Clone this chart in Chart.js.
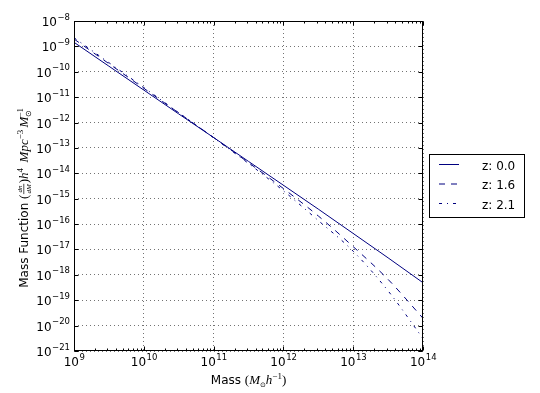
<!DOCTYPE html>
<html>
<head>
<meta charset="utf-8">
<script src="https://cdn.jsdelivr.net/npm/chart.js@4.4.0/dist/chart.umd.min.js"></script>
<style>
  html, body { margin: 0; padding: 0; background: #fff; }
  #grafico { display: block; }
</style>
</head>
<body>
<canvas id="grafico" width="540" height="393"></canvas>
<script>
// Dados (massa em M_sun/h, função de massa)
const massas = [1e9, 3.16e9, 1e10, 3.16e10, 1e11, 3.16e11, 1e12, 3.16e12, 1e13, 3.16e13, 1e14];
const funcaoZ00 = [1.45e-9, 1.66e-10, 1.9e-11, 2.19e-12, 2.57e-13, 2.95e-14, 3.39e-15, 3.89e-16, 4.27e-17, 4.68e-18, 4.9e-19];
const funcaoZ16 = [1.95e-9, 2.09e-10, 2.24e-11, 2.4e-12, 2.57e-13, 2.63e-14, 2.51e-15, 2.09e-16, 1.29e-17, 6.61e-19, 1.95e-20];
const funcaoZ21 = [2.19e-9, 2.29e-10, 2.4e-11, 2.45e-12, 2.51e-13, 2.45e-14, 2.04e-15, 1.38e-16, 8.5e-18, 2.34e-19, 3.09e-21];
const rotulos = ['z: 0.0', 'z: 1.6', 'z: 2.1'];

// Rótulos dos eixos (expoentes de 10)
const expoentesX = [9, 10, 11, 12, 13, 14];
const expoentesY = [-8, -9, -10, -11, -12, -13, -14, -15, -16, -17, -18, -19, -20, -21];

const COR = '#000080';
const FONTE = 'DejaVu Sans';
const SERIF = 'Liberation Serif';

function pontos(valores) {
  return massas.map((m, i) => ({ x: m, y: valores[i] }));
}

function textoExpoente(e) {
  return String(e).replace('-', '\u2212');
}

// desenha uma sequência de pedaços de texto (fonte, deslocamento vertical)
function larguraPedacos(ctx, pedacos) {
  let w = 0;
  pedacos.forEach(p => {
    if (p.frac) {
      ctx.font = p.f;
      p.w = Math.max(ctx.measureText(p.frac[0]).width, ctx.measureText(p.frac[1]).width) + 2;
    } else if (p.pilha) {
      ctx.font = p.f;
      p.w = Math.max(ctx.measureText(p.pilha[0]).width, ctx.measureText(p.pilha[1]).width);
    } else {
      ctx.font = p.f;
      p.w = ctx.measureText(p.t).width;
    }
    w += p.w;
  });
  return w;
}

function desenhaPedacos(ctx, pedacos, x, y) {
  let cx = x;
  pedacos.forEach(p => {
    ctx.font = p.f;
    if (p.frac) {
      ctx.textAlign = 'center';
      ctx.fillText(p.frac[0], cx + p.w / 2, y - 6);
      ctx.fillText(p.frac[1], cx + p.w / 2, y + 3);
      ctx.fillRect(cx + 0.5, y - 4.5, p.w - 1, 0.7);
      ctx.textAlign = 'left';
    } else if (p.pilha) {
      ctx.fillText(p.pilha[0], cx, y - 5);
      ctx.fillText(p.pilha[1], cx, y + 3);
    } else {
      ctx.fillText(p.t, cx, y + (p.dy || 0));
    }
    cx += p.w;
  });
}

// Moldura, marcas, rótulos e legenda no estilo matplotlib
const estiloMpl = {
  id: 'estiloMpl',
  afterDraw(chart) {
    const { ctx, chartArea: area, scales: { x, y } } = chart;
    const L = Math.round(area.left) + 0.5, R = Math.round(area.right) - 0.5;
    const T = Math.round(area.top) + 0.5, B = Math.round(area.bottom) - 0.5;
    ctx.save();
    ctx.strokeStyle = '#000';
    ctx.fillStyle = '#000';
    ctx.lineWidth = 1;
    ctx.setLineDash([]);

    // marcas
    ctx.beginPath();
    expoentesX.forEach(e => {
      const px = Math.round(x.getPixelForValue(Math.pow(10, e))) + 0.5;
      ctx.moveTo(px, B); ctx.lineTo(px, B - 4);
      ctx.moveTo(px, T); ctx.lineTo(px, T + 4);
      if (e < 14) {
        for (let k = 2; k <= 9; k++) {
          const pm = Math.round(x.getPixelForValue(k * Math.pow(10, e))) + 0.5;
          ctx.moveTo(pm, B); ctx.lineTo(pm, B - 2);
          ctx.moveTo(pm, T); ctx.lineTo(pm, T + 2);
        }
      }
    });
    expoentesY.forEach(e => {
      const py = Math.round(y.getPixelForValue(Math.pow(10, e))) + 0.5;
      ctx.moveTo(L, py); ctx.lineTo(L + 4, py);
      ctx.moveTo(R, py); ctx.lineTo(R - 4, py);
    });
    ctx.stroke();

    // moldura
    ctx.strokeRect(L, T, R - L, B - T);

    // rótulos do eixo x
    ctx.textAlign = 'left';
    ctx.textBaseline = 'alphabetic';
    expoentesX.forEach(e => {
      const px = x.getPixelForValue(Math.pow(10, e));
      ctx.font = '12px ' + FONTE;
      const w1 = ctx.measureText('10').width;
      ctx.font = '8.5px ' + FONTE;
      const w2 = ctx.measureText(textoExpoente(e)).width;
      const x0 = px - (w1 + w2) / 2;
      ctx.font = '12px ' + FONTE;
      ctx.fillText('10', x0, area.bottom + 15);
      ctx.font = '8.5px ' + FONTE;
      ctx.fillText(textoExpoente(e), x0 + w1 + 0.5, area.bottom + 9);
    });

    // rótulos do eixo y
    expoentesY.forEach(e => {
      const py = y.getPixelForValue(Math.pow(10, e));
      ctx.font = '8.5px ' + FONTE;
      const w2 = ctx.measureText(textoExpoente(e)).width;
      const xd = area.left - 4;
      ctx.fillText(textoExpoente(e), xd - w2, py - 1.5);
      ctx.font = '12px ' + FONTE;
      const w1 = ctx.measureText('10').width;
      ctx.fillText('10', xd - w2 - w1 - 0.5, py + 5);
    });

    // título do eixo x
    const tituloX = [
      { t: 'Mass ', f: '12px ' + FONTE },
      { t: '(', f: '13px ' + SERIF },
      { t: 'M', f: 'italic 13px ' + SERIF },
      { t: '\u2299', f: '7px ' + FONTE, dy: 3 },
      { t: 'h', f: 'italic 13px ' + SERIF },
      { t: '\u22121', f: '9px ' + SERIF, dy: -5 },
      { t: ')', f: '13px ' + SERIF }
    ];
    const wx = larguraPedacos(ctx, tituloX);
    desenhaPedacos(ctx, tituloX, (area.left + area.right) / 2 - wx / 2, 384);

    // título do eixo y
    const tituloY = [
      { t: 'Mass Function ', f: '12px ' + FONTE },
      { t: '(', f: '13px ' + SERIF },
      { frac: ['dn', 'dM'], f: 'italic 7px ' + SERIF },
      { t: ')', f: '13px ' + SERIF },
      { t: 'h', f: 'italic 13px ' + SERIF },
      { t: '4 ', f: '9px ' + SERIF, dy: -5 },
      { t: ' Mpc', f: 'italic 13px ' + SERIF },
      { t: '\u22123 ', f: '9px ' + SERIF, dy: -5 },
      { t: 'M', f: 'italic 13px ' + SERIF },
      { pilha: ['\u22121', '\u2299'], f: '8px ' + SERIF }
    ];
    const wy = larguraPedacos(ctx, tituloY);
    ctx.save();
    ctx.translate(28, 198);
    ctx.rotate(-Math.PI / 2);
    desenhaPedacos(ctx, tituloY, -wy / 2, 0);
    ctx.restore();

    // legenda
    ctx.fillStyle = '#fff';
    ctx.fillRect(429.5, 154.5, 95, 63);
    ctx.strokeStyle = '#000';
    ctx.strokeRect(429.5, 154.5, 95, 63);
    chart.data.datasets.forEach((ds, i) => {
      const ly = 164.5 + i * 19.5;
      ctx.strokeStyle = ds.borderColor;
      ctx.setLineDash(ds.borderDash || []);
      ctx.beginPath();
      ctx.moveTo(439, ly);
      ctx.lineTo(459, ly);
      ctx.stroke();
      ctx.setLineDash([]);
      ctx.fillStyle = '#000';
      ctx.font = '12px ' + FONTE;
      ctx.fillText(ds.label, 482, ly + 5);
    });
    ctx.restore();
  }
};

new Chart(document.getElementById('grafico'), {
  type: 'line',
  data: {
    datasets: [
      { label: rotulos[0], data: pontos(funcaoZ00), borderDash: [] },
      { label: rotulos[1], data: pontos(funcaoZ16), borderDash: [6, 6] },
      { label: rotulos[2], data: pontos(funcaoZ21), borderDash: [3, 5, 1, 5] }
    ].map(ds => Object.assign(ds, {
      borderColor: COR,
      borderWidth: 1,
      pointRadius: 0,
      fill: false,
      cubicInterpolationMode: 'monotone'
    }))
  },
  options: {
    responsive: false,
    animation: false,
    layout: { padding: { left: 74, right: 117, top: 21, bottom: 42 } },
    plugins: { legend: { display: false }, tooltip: { enabled: false } },
    scales: {
      x: {
        type: 'logarithmic',
        min: 1e9,
        max: 1e14,
        afterBuildTicks: axis => { axis.ticks = expoentesX.map(e => ({ value: Math.pow(10, e) })); },
        ticks: { display: false },
        grid: { color: 'rgba(0,0,0,0.55)', lineWidth: 1, drawTicks: false },
        border: { display: false, dash: [1, 3] }
      },
      y: {
        type: 'logarithmic',
        min: 1e-21,
        max: 1e-8,
        afterBuildTicks: axis => { axis.ticks = expoentesY.map(e => ({ value: Math.pow(10, e) })); },
        ticks: { display: false },
        grid: { color: 'rgba(0,0,0,0.55)', lineWidth: 1, drawTicks: false },
        border: { display: false, dash: [1, 3] }
      }
    }
  },
  plugins: [estiloMpl]
});
</script>
</body>
</html>
